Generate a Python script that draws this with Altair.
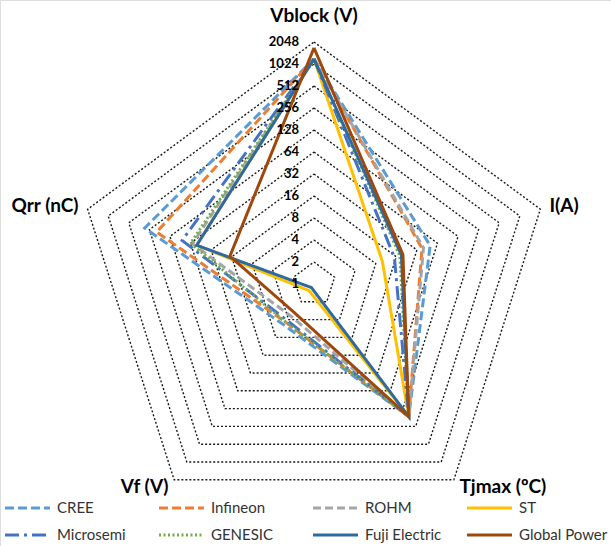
import altair as alt
import pandas as pd

# ---- data ----
series = ["CREE", "Infineon", "ROHM", "ST", "Microsemi", "GENESIC", "Fuji Electric", "Global Power"]
axis_names = ["Vblock (V)", "I(A)", "Tjmax (ºC)", "Vf (V)", "Qrr (nC)"]
vblock = [1200, 1200, 1200, 1200, 1200, 1200, 1200, 1700]
current = [50, 38, 40, 10, 15, 18, 19, 20]
tjmax = [175, 175, 175, 175, 175, 175, 175, 175]
vf = [5.0, 4.5, 3.5, 1.3, 4.2, 4.5, 1.15, 3.0]
qrr = [300, 200, 60, 52, 85, 64, 52, 17]
ticks = [1, 2, 4, 8, 16, 32, 64, 128, 256, 512, 1024, 2048]

# ---- styles ----
colors = ["#5B9BD5", "#ED7D31", "#A5A5A5", "#FFC000", "#4472C4", "#70AD47", "#2E6AA0", "#9E480E"]
dashes = [[9, 4], [9, 4], [8, 4], [1, 0], [14, 5, 3, 5], [2, 2.5], [1, 0], [1, 0]]
widths = [3, 3, 3.5, 2.5, 3, 3, 2.5, 2.5]
FONT = "Lato"
NRING = 11  # log2(2048)

# ---- tables built from the arrays ----
vals = [vblock, current, tjmax, vf, qrr]
rows = []
for si, s in enumerate(series):
    for k in range(6):
        rows.append({"series": s, "k": k, "value": vals[k % 5][si]})
df = pd.DataFrame(rows)

ring_rows = []
for t in ticks[1:]:
    for k in range(6):
        ring_rows.append({"ring": t, "k": k, "value": t})
rings_df = pd.DataFrame(ring_rows)

ticks_df = pd.DataFrame({"value": ticks, "k": [0] * len(ticks), "label": [str(t) for t in ticks]})
axes_df = pd.DataFrame({"name": axis_names, "k": list(range(5))})
legend_df = pd.DataFrame({"series": series, "i": list(range(len(series)))})

XS = alt.Scale(domain=[-314 / 238, 297 / 238], nice=False, zero=False)
YS = alt.Scale(domain=[-(546 - 284) / 242, 284 / 242], nice=False, zero=False)
cscale = alt.Scale(domain=series, range=colors)
dscale = alt.Scale(domain=series, range=dashes)
wscale = alt.Scale(domain=series, range=widths)


def polar(ch):
    return (ch.transform_calculate(r=f"log(datum.value)/log(2)/{NRING}", th="datum.k*2*PI/5")
              .transform_calculate(px="datum.r*sin(datum.th)", py="datum.r*cos(datum.th)"))


rings = polar(alt.Chart(rings_df)).mark_line(
    color="#1a1a1a", strokeDash=[2, 2], strokeWidth=1.4
).encode(
    x=alt.X("px:Q", scale=XS, axis=None),
    y=alt.Y("py:Q", scale=YS, axis=None),
    detail="ring:N",
    order="k:Q",
)

tick_labels = polar(alt.Chart(ticks_df)).mark_text(
    align="right", baseline="middle", dx=-15, fontWeight="bold", fontSize=13, font=FONT, color="#000"
).encode(
    x=alt.X("px:Q", scale=XS, axis=None),
    y=alt.Y("py:Q", scale=YS, axis=None),
    text="label:N",
)

lines = polar(alt.Chart(df)).mark_line(strokeJoin="miter").encode(
    x=alt.X("px:Q", scale=XS, axis=None),
    y=alt.Y("py:Q", scale=YS, axis=None),
    color=alt.Color("series:N", scale=cscale, legend=None),
    strokeDash=alt.StrokeDash("series:N", scale=dscale, legend=None),
    strokeWidth=alt.StrokeWidth("series:O", scale=wscale, legend=None),
    order="k:Q",
)


def axis_label(filter_expr, align, baseline, dy):
    return (alt.Chart(axes_df)
            .transform_filter(filter_expr)
            .transform_calculate(th="datum.k*2*PI/5")
            .transform_calculate(px="1.04*sin(datum.th)", py="1.04*cos(datum.th)")
            .mark_text(align=align, baseline=baseline, dy=dy, fontWeight="bold", fontSize=19,
                       font=FONT, color="#000")
            .encode(x=alt.X("px:Q", scale=XS, axis=None),
                    y=alt.Y("py:Q", scale=YS, axis=None),
                    text="name:N"))


lab_top = axis_label("datum.k == 0", "center", "bottom", -6)
lab_right = axis_label("datum.k == 1", "left", "middle", 0)
lab_br = axis_label("datum.k == 2", "left", "middle", -1)
lab_bl = axis_label("datum.k == 3", "right", "middle", -1)
lab_left = axis_label("datum.k == 4", "right", "middle", 0)

leg_base = alt.Chart(legend_df).transform_calculate(
    lx="5 + (datum.i % 4) * 154",
    lx2="50 + (datum.i % 4) * 154",
    tx="57 + (datum.i % 4) * 154",
    ly="508 + floor(datum.i / 4) * 27",
)
leg_sym = leg_base.mark_rule(strokeCap="butt", strokeWidth=3).encode(
    x=alt.X("lx:Q", scale=None, axis=None),
    x2="lx2:Q",
    y=alt.Y("ly:Q", scale=None, axis=None),
    color=alt.Color("series:N", scale=cscale, legend=None),
    strokeDash=alt.StrokeDash("series:N", scale=dscale, legend=None),
)
leg_txt = leg_base.mark_text(align="left", baseline="middle", fontSize=15, font=FONT, color="#333").encode(
    x=alt.X("tx:Q", scale=None, axis=None),
    y=alt.Y("ly:Q", scale=None, axis=None),
    text="series:N",
)

chart = alt.layer(
    rings, lines, tick_labels, lab_top, lab_right, lab_br, lab_bl, lab_left, leg_sym, leg_txt
).resolve_scale(
    x="independent", y="independent"
).properties(
    width=611, height=546, autosize=alt.AutoSizeParams(type="none"), padding=0
).configure_view(stroke=None).configure(background="white")

chart.save("out.html", embed_options={"renderer": "svg", "actions": False})
